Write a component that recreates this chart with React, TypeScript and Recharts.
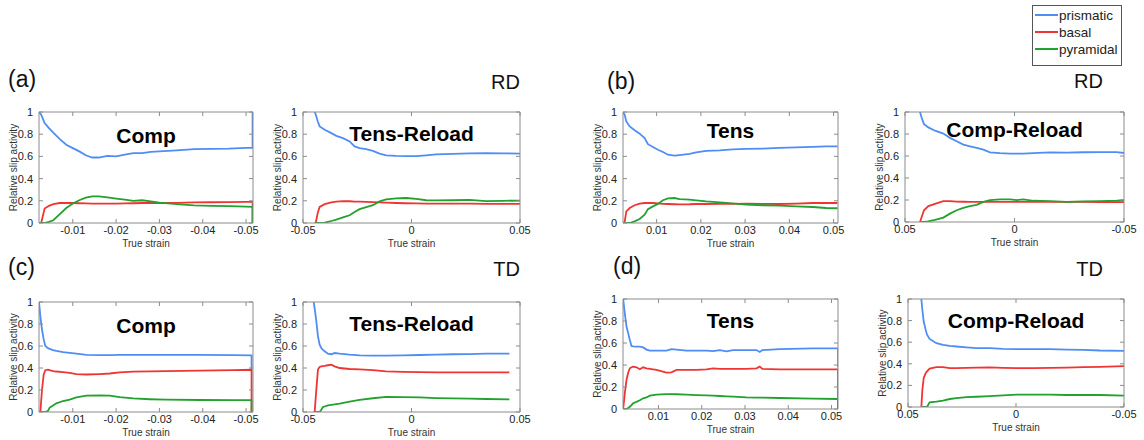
import React from 'react';
import { LineChart, Line, XAxis, YAxis } from 'recharts';

// ---------- data: relative slip activity vs true strain ----------
const yTicks = [0, 0.2, 0.4, 0.6, 0.8, 1];
const compTicks = [-0.01, -0.02, -0.03, -0.04, -0.05];
const tensTicks = [0.01, 0.02, 0.03, 0.04, 0.05];
const reloadTicks = [-0.05, 0, 0.05];

// (a) RD Comp
const rdCompStrain = [-0.0022, -0.0027, -0.0035, -0.0045, -0.0055, -0.007, -0.0085, -0.01, -0.0115, -0.013, -0.0145, -0.016, -0.018, -0.02, -0.022, -0.024, -0.026, -0.028, -0.03, -0.034, -0.038, -0.042, -0.046, -0.05, -0.0515, -0.0515];
const rdCompPrismatic = [1, 0.975, 0.9, 0.855, 0.815, 0.755, 0.705, 0.675, 0.645, 0.61, 0.59, 0.59, 0.605, 0.6, 0.615, 0.63, 0.63, 0.64, 0.645, 0.655, 0.665, 0.668, 0.67, 0.677, 0.677, 1];
const rdCompBasal = [0, 0, 0.13, 0.155, 0.17, 0.18, 0.18, 0.18, 0.178, 0.176, 0.175, 0.175, 0.175, 0.175, 0.177, 0.178, 0.18, 0.18, 0.18, 0.182, 0.185, 0.187, 0.188, 0.19, 0.19, 0];
const rdCompPyramidal = [0, 0, 0, 0.01, 0.025, 0.08, 0.135, 0.175, 0.205, 0.228, 0.24, 0.24, 0.23, 0.22, 0.21, 0.2, 0.205, 0.195, 0.183, 0.17, 0.158, 0.155, 0.152, 0.148, 0.145, 0];

// (a) RD Tens-Reload
const rdTensReloadStrain = [-0.04463, -0.04417, -0.0431, -0.04233, -0.04, -0.03696, -0.03466, -0.03159, -0.02852, -0.02622, -0.02392, -0.02085, -0.01779, -0.01472, -0.01165, -0.00705, -0.00245, 0.00215, 0.00675, 0.01135, 0.01902, 0.02669, 0.03436, 0.04202, 0.05];
const rdTensReloadPrismatic = [1, 0.98, 0.91, 0.87, 0.84, 0.81, 0.785, 0.765, 0.735, 0.69, 0.675, 0.665, 0.65, 0.625, 0.61, 0.605, 0.603, 0.603, 0.61, 0.618, 0.622, 0.628, 0.63, 0.628, 0.625];
const rdTensReloadBasal = [0, 0, 0.1, 0.145, 0.17, 0.185, 0.192, 0.197, 0.196, 0.193, 0.192, 0.19, 0.188, 0.185, 0.183, 0.18, 0.178, 0.176, 0.175, 0.175, 0.175, 0.174, 0.173, 0.172, 0.172];
const rdTensReloadPyramidal = [0, 0, 0, 0, 0.003, 0.018, 0.03, 0.05, 0.07, 0.1, 0.125, 0.143, 0.16, 0.195, 0.213, 0.222, 0.225, 0.218, 0.205, 0.203, 0.205, 0.208, 0.197, 0.2, 0.202];

// (b) RD Tens
const rdTensStrain = [0.0024, 0.00278, 0.00315, 0.00391, 0.00503, 0.00616, 0.00729, 0.00804, 0.00917, 0.0103, 0.01143, 0.01256, 0.01406, 0.01519, 0.01745, 0.01895, 0.02121, 0.02422, 0.02723, 0.03024, 0.034, 0.03776, 0.04153, 0.04529, 0.0483, 0.0509];
const rdTensPrismatic = [1, 0.975, 0.915, 0.87, 0.835, 0.805, 0.765, 0.71, 0.685, 0.66, 0.64, 0.615, 0.607, 0.612, 0.622, 0.636, 0.65, 0.655, 0.663, 0.667, 0.67, 0.676, 0.682, 0.686, 0.69, 0.69];
const rdTensBasal = [0, 0.01, 0.105, 0.135, 0.16, 0.175, 0.18, 0.18, 0.18, 0.177, 0.173, 0.171, 0.169, 0.168, 0.169, 0.171, 0.171, 0.172, 0.173, 0.174, 0.172, 0.171, 0.174, 0.18, 0.18, 0.18];
const rdTensPyramidal = [0, 0, 0, 0, 0.015, 0.036, 0.075, 0.125, 0.15, 0.172, 0.205, 0.222, 0.225, 0.216, 0.21, 0.204, 0.195, 0.186, 0.176, 0.166, 0.16, 0.156, 0.15, 0.144, 0.135, 0.133];

// (b) RD Comp-Reload
const rdCompReloadStrain = [0.04315, 0.04239, 0.04132, 0.03935, 0.0363, 0.0325, 0.02945, 0.02641, 0.02337, 0.02032, 0.01728, 0.01423, 0.01119, 0.00662, 0.00206, -0.00099, -0.00403, -0.0086, -0.01621, -0.02382, -0.03143, -0.03904, -0.04665, -0.05];
const rdCompReloadPrismatic = [1, 0.948, 0.89, 0.86, 0.83, 0.804, 0.765, 0.734, 0.703, 0.688, 0.673, 0.657, 0.633, 0.626, 0.622, 0.621, 0.622, 0.627, 0.633, 0.63, 0.634, 0.636, 0.635, 0.627];
const rdCompReloadBasal = [0, 0.046, 0.107, 0.144, 0.165, 0.19, 0.19, 0.186, 0.184, 0.183, 0.183, 0.183, 0.183, 0.183, 0.183, 0.183, 0.183, 0.183, 0.183, 0.183, 0.183, 0.182, 0.181, 0.18];
const rdCompReloadPyramidal = [0, 0, 0, 0.006, 0.02, 0.04, 0.076, 0.107, 0.128, 0.144, 0.156, 0.183, 0.199, 0.205, 0.205, 0.199, 0.206, 0.193, 0.19, 0.183, 0.187, 0.19, 0.193, 0.199];

// (c) TD Comp
const tdCompStrain = [-0.0022, -0.00251, -0.00289, -0.00328, -0.00366, -0.00428, -0.00467, -0.00544, -0.00621, -0.00775, -0.00929, -0.01083, -0.01314, -0.01622, -0.01853, -0.02084, -0.02393, -0.02778, -0.03163, -0.03933, -0.04704, -0.05127, -0.05127];
const tdCompPrismatic = [1, 0.87, 0.75, 0.66, 0.6, 0.58, 0.574, 0.563, 0.555, 0.544, 0.537, 0.53, 0.52, 0.517, 0.517, 0.52, 0.52, 0.519, 0.52, 0.52, 0.517, 0.514, 0.39];
const tdCompBasal = [0, 0, 0.2, 0.34, 0.38, 0.385, 0.38, 0.372, 0.368, 0.363, 0.355, 0.345, 0.341, 0.345, 0.35, 0.36, 0.367, 0.37, 0.372, 0.376, 0.38, 0.384, 0];
const tdCompPyramidal = [0, 0, 0, 0, 0, 0.01, 0.04, 0.06, 0.079, 0.1, 0.112, 0.133, 0.148, 0.151, 0.148, 0.135, 0.123, 0.116, 0.112, 0.109, 0.108, 0.108, 0];

// (c) TD Tens-Reload
const tdTensReloadStrain = [-0.04509, -0.04463, -0.04386, -0.0431, -0.04233, -0.04156, -0.0408, -0.04003, -0.0385, -0.03696, -0.03543, -0.03313, -0.02852, -0.02392, -0.01779, -0.01165, -0.00398, 0.00369, 0.01136, 0.01903, 0.0267, 0.03437, 0.04511];
const tdTensReloadPrismatic = [1, 0.945, 0.824, 0.688, 0.612, 0.582, 0.565, 0.552, 0.53, 0.525, 0.536, 0.53, 0.521, 0.515, 0.512, 0.512, 0.515, 0.518, 0.521, 0.525, 0.527, 0.53, 0.53];
const tdTensReloadBasal = [0, 0, 0.203, 0.385, 0.41, 0.415, 0.418, 0.42, 0.425, 0.43, 0.415, 0.4, 0.391, 0.387, 0.38, 0.37, 0.365, 0.363, 0.36, 0.36, 0.36, 0.36, 0.36];
const tdTensReloadPyramidal = [0, 0, 0, 0, 0, 0.02, 0.045, 0.05, 0.06, 0.065, 0.07, 0.076, 0.095, 0.11, 0.125, 0.138, 0.136, 0.133, 0.127, 0.124, 0.121, 0.118, 0.115];

// (d) TD Tens
const tdTensStrain = [0.00184, 0.00222, 0.00261, 0.00299, 0.00338, 0.00376, 0.00415, 0.00492, 0.00569, 0.00646, 0.00723, 0.008, 0.00954, 0.01185, 0.013, 0.01416, 0.01647, 0.01878, 0.02109, 0.02263, 0.02417, 0.02571, 0.02725, 0.03033, 0.03264, 0.03341, 0.03402, 0.03803, 0.04573, 0.0515, 0.0515];
const tdTensPrismatic = [1, 0.87, 0.75, 0.69, 0.627, 0.573, 0.57, 0.567, 0.567, 0.56, 0.54, 0.53, 0.53, 0.53, 0.545, 0.54, 0.53, 0.53, 0.53, 0.527, 0.536, 0.524, 0.536, 0.536, 0.536, 0.518, 0.536, 0.545, 0.552, 0.552, 0.38];
const tdTensBasal = [0, 0.142, 0.264, 0.33, 0.37, 0.38, 0.385, 0.379, 0.361, 0.379, 0.37, 0.365, 0.355, 0.33, 0.333, 0.355, 0.355, 0.355, 0.361, 0.37, 0.364, 0.364, 0.364, 0.364, 0.37, 0.385, 0.364, 0.361, 0.361, 0.361, 0];
const tdTensPyramidal = [0, 0, 0, 0.01, 0.021, 0.035, 0.052, 0.065, 0.08, 0.097, 0.105, 0.121, 0.13, 0.136, 0.136, 0.134, 0.13, 0.127, 0.123, 0.121, 0.118, 0.115, 0.113, 0.106, 0.104, 0.103, 0.103, 0.1, 0.094, 0.091, 0];

// (d) TD Comp-Reload
const tdCompReloadStrain = [0.04382, 0.04335, 0.04273, 0.04181, 0.04119, 0.04, 0.03686, 0.03377, 0.03068, 0.02758, 0.02295, 0.01831, 0.01212, 0.00594, -0.00025, -0.008, -0.01571, -0.02344, -0.03117, -0.0389, -0.05];
const tdCompReloadPrismatic = [1, 0.898, 0.791, 0.714, 0.67, 0.63, 0.591, 0.575, 0.566, 0.56, 0.552, 0.545, 0.545, 0.538, 0.535, 0.535, 0.535, 0.532, 0.529, 0.523, 0.52];
const tdCompReloadBasal = [0, 0.16, 0.268, 0.314, 0.33, 0.355, 0.369, 0.369, 0.36, 0.36, 0.363, 0.365, 0.366, 0.362, 0.36, 0.36, 0.363, 0.365, 0.369, 0.372, 0.378];
const tdCompReloadPyramidal = [0, 0, 0, 0, 0, 0.043, 0.049, 0.058, 0.074, 0.083, 0.092, 0.095, 0.1, 0.107, 0.114, 0.114, 0.114, 0.111, 0.111, 0.111, 0.105];

const seriesNames = ['prismatic', 'basal', 'pyramidal'];

// ---------- styles ----------
const COLORS: Record<string, string> = { prismatic: '#4f8df5', basal: '#f03434', pyramidal: '#23a12e' };
const FONT = '"Liberation Sans", Arial, Helvetica, sans-serif';
const AXIS = '#8c8c8c';

const fmtX = (v: number) => (Math.abs(v) < 1e-9 ? '0' : v.toFixed(2));
const fmtY = (v: number) => (v === 0 || v === 1 ? String(v) : v.toFixed(1));

type PanelDef = {
  left: number; top: number; w: number; h: number; titleY: number;
  title: string; domain: [number, number]; ticks: number[]; reversed: boolean;
  strain: number[]; prismatic: number[]; basal: number[]; pyramidal: number[];
};

const panels: PanelDef[] = [
  { left: 39, top: 112, w: 214, h: 111, titleY: 135.3, title: 'Comp', domain: [-0.0516, -0.0022], ticks: compTicks, reversed: true,
    strain: rdCompStrain, prismatic: rdCompPrismatic, basal: rdCompBasal, pyramidal: rdCompPyramidal },
  { left: 303, top: 112, w: 217, h: 111, titleY: 133.8, title: 'Tens-Reload', domain: [-0.05, 0.05], ticks: reloadTicks, reversed: false,
    strain: rdTensReloadStrain, prismatic: rdTensReloadPrismatic, basal: rdTensReloadBasal, pyramidal: rdTensReloadPyramidal },
  { left: 623, top: 112, w: 215, h: 111, titleY: 130.3, title: 'Tens', domain: [0.0024, 0.051], ticks: tensTicks, reversed: false,
    strain: rdTensStrain, prismatic: rdTensPrismatic, basal: rdTensBasal, pyramidal: rdTensPyramidal },
  { left: 905, top: 112, w: 219, h: 110, titleY: 129.7, title: 'Comp-Reload', domain: [-0.05, 0.05], ticks: reloadTicks, reversed: true,
    strain: rdCompReloadStrain, prismatic: rdCompReloadPrismatic, basal: rdCompReloadBasal, pyramidal: rdCompReloadPyramidal },
  { left: 39, top: 302, w: 214, h: 110, titleY: 325.5, title: 'Comp', domain: [-0.0516, -0.0022], ticks: compTicks, reversed: true,
    strain: tdCompStrain, prismatic: tdCompPrismatic, basal: tdCompBasal, pyramidal: tdCompPyramidal },
  { left: 303, top: 302, w: 217, h: 110, titleY: 323.8, title: 'Tens-Reload', domain: [-0.05, 0.05], ticks: reloadTicks, reversed: false,
    strain: tdTensReloadStrain, prismatic: tdTensReloadPrismatic, basal: tdTensReloadBasal, pyramidal: tdTensReloadPyramidal },
  { left: 623, top: 299, w: 215, h: 110, titleY: 320.8, title: 'Tens', domain: [0.0018, 0.0515], ticks: tensTicks, reversed: false,
    strain: tdTensStrain, prismatic: tdTensPrismatic, basal: tdTensBasal, pyramidal: tdTensPyramidal },
  { left: 908, top: 299, w: 216, h: 108, titleY: 320.3, title: 'Comp-Reload', domain: [-0.05, 0.05], ticks: reloadTicks, reversed: true,
    strain: tdCompReloadStrain, prismatic: tdCompReloadPrismatic, basal: tdCompReloadBasal, pyramidal: tdCompReloadPyramidal },
];

const ML = 50, MT = 10, MR = 20, XH = 30, MB = 2;

function Panel({ p }: { p: PanelDef }) {
  const data = p.strain.map((s, i) => ({
    strain: s, prismatic: p.prismatic[i], basal: p.basal[i], pyramidal: p.pyramidal[i],
  }));
  const width = p.w + ML + MR;
  const height = p.h + MT + XH + MB;
  return (
    <div style={{ position: 'absolute', left: p.left - ML, top: p.top - MT, width, height }}>
      <LineChart width={width} height={height} data={data} margin={{ top: MT - 1, right: MR - 1, left: 0, bottom: MB }}>
        <XAxis dataKey="strain" type="number" domain={p.domain} ticks={p.ticks} reversed={p.reversed}
          allowDataOverflow interval={0} height={XH} tickSize={-4} tickMargin={7}
          tickFormatter={fmtX} tick={{ fontSize: 11, fill: '#222', fontFamily: FONT }} stroke={AXIS} />
        <XAxis xAxisId="top" orientation="top" dataKey="strain" type="number" domain={p.domain} ticks={p.ticks}
          reversed={p.reversed} allowDataOverflow interval={0} height={1} tickSize={-4} tickFormatter={() => ''} stroke={AXIS} />
        <YAxis type="number" domain={[0, 1]} ticks={yTicks} allowDataOverflow interval={0} width={ML} tickSize={-4}
          tickMargin={10} tickFormatter={fmtY} tick={{ fontSize: 11, fill: '#222', fontFamily: FONT }} stroke={AXIS} />
        <YAxis yAxisId="right" orientation="right" type="number" domain={[0, 1]} ticks={yTicks} allowDataOverflow
          interval={0} width={1} tickSize={-4} tickFormatter={() => ''} stroke={AXIS} />
        {seriesNames.map((k) => (
          <Line key={k} dataKey={k} type="linear" stroke={COLORS[k]} strokeWidth={1.8} dot={false}
            activeDot={false} isAnimationActive={false} />
        ))}
      </LineChart>
    </div>
  );
}

const panelLabels = [
  { text: '(a)', x: 8, y: 87 },
  { text: '(b)', x: 607, y: 88.5 },
  { text: '(c)', x: 8, y: 274.5 },
  { text: '(d)', x: 613, y: 273.5 },
];
const dirLabels = [
  { text: 'RD', x: 520, y: 89 },
  { text: 'RD', x: 1103, y: 88 },
  { text: 'TD', x: 520, y: 276 },
  { text: 'TD', x: 1103, y: 276 },
];

export default function App() {
  return (
    <div style={{ position: 'absolute', left: 0, top: 0, width: 1144, height: 440, background: '#fff', overflow: 'hidden', fontFamily: FONT }}>
      {panels.map((p, i) => <Panel key={i} p={p} />)}
      <svg width={1144} height={440} style={{ position: 'absolute', left: 0, top: 0, pointerEvents: 'none' }}>
        {panels.map((p, i) => (
          <g key={'t' + i}>
            <text x={p.left + p.w / 2} y={p.titleY + 7.5} textAnchor="middle" fontFamily={FONT}
              fontWeight="bold" fontSize={21} fill="#000">{p.title}</text>
            <text x={p.left + p.w / 2} y={p.top + p.h + 24} textAnchor="middle" fontFamily={FONT}
              fontSize={10} fill="#333">True strain</text>
            <text x={p.left - 22} y={p.top + p.h / 2} textAnchor="middle" fontFamily={FONT} fontSize={10} fill="#333"
              transform={`rotate(-90 ${p.left - 22} ${p.top + p.h / 2})`}>Relative slip activity</text>
          </g>
        ))}
        {panelLabels.map((l) => (
          <text key={l.text} x={l.x} y={l.y} fontFamily={FONT} fontSize={23} fill="#111">{l.text}</text>
        ))}
        {dirLabels.map((l, i) => (
          <text key={'d' + i} x={l.x} y={l.y} textAnchor="end" fontFamily={FONT} fontSize={20} fill="#111">{l.text}</text>
        ))}
        <rect x={1032.5} y={5.5} width={89} height={60} fill="#fff" stroke="#555" strokeWidth={1} />
        {seriesNames.map((k, i) => (
          <g key={'lg' + k}>
            <line x1={1035} x2={1058} y1={15 + i * 17} y2={15 + i * 17} stroke={COLORS[k]} strokeWidth={2} />
            <text x={1059} y={15 + i * 17 + 4.5} fontFamily={FONT} fontSize={13.5} fill="#222">{k}</text>
          </g>
        ))}
      </svg>
    </div>
  );
}
